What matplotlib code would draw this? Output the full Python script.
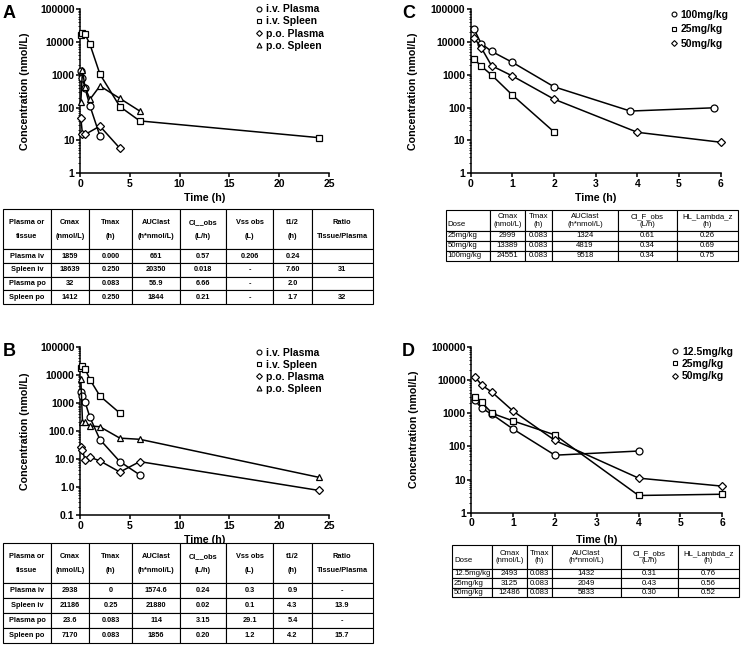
import matplotlib
matplotlib.use('Agg')
import matplotlib.pyplot as plt
from matplotlib.lines import Line2D
from matplotlib.ticker import LogLocator, FixedLocator, FixedFormatter, NullFormatter

plt.rcParams['font.family'] = ['Liberation Sans', 'DejaVu Sans']

# ---------------- Panel A data ----------------
a_ivp_t = [0.083, 0.25, 0.5, 1, 2]
a_ivp_v = [1300, 800, 400, 112, 13.5]
a_ivs_t = [0.083, 0.25, 0.5, 1, 2, 4, 6, 24]
a_ivs_v = [16500, 18639, 17500, 8500, 1050, 107, 39, 12]
a_pop_t = [0.083, 0.25, 0.5, 2, 4]
a_pop_v = [47, 15, 15, 27, 5.7]
a_pos_t = [0.083, 0.25, 0.5, 1, 2, 4, 6]
a_pos_v = [150, 1412, 420, 178, 455, 190, 78]

# ---------------- Panel B data ----------------
b_ivp_t = [0.083, 0.25, 0.5, 1, 2, 4, 6]
b_ivp_v = [2500, 1700, 1100, 300, 49, 8, 2.7]
b_ivs_t = [0.083, 0.25, 0.5, 1, 2, 4]
b_ivs_v = [18000, 21186, 16500, 6700, 1750, 430]
b_pop_t = [0.083, 0.25, 0.5, 1, 2, 4, 6, 24]
b_pop_v = [26, 20, 9.5, 11.5, 8.5, 3.4, 8, 0.75]
b_pos_t = [0.083, 0.25, 0.5, 1, 2, 4, 6, 24]
b_pos_v = [7170, 210, 200, 150, 140, 55, 50, 2.2]

# ---------------- Panel C data ----------------
c_100_t = [0.083, 0.25, 0.5, 1, 2, 3.83, 5.83]
c_100_v = [24551, 9000, 5200, 2400, 430, 78, 98]
c_25_t = [0.083, 0.25, 0.5, 1, 2]
c_25_v = [2999, 1850, 990, 240, 18]
c_50_t = [0.083, 0.25, 0.5, 1, 2, 4, 6]
c_50_v = [13389, 6800, 1900, 920, 180, 17.5, 8.7]

# ---------------- Panel D data ----------------
d_125_t = [0.083, 0.25, 0.5, 1, 2, 4]
d_125_v = [2450, 1400, 910, 330, 54, 72]
d_25_t = [0.083, 0.25, 0.5, 1, 2, 4, 6]
d_25_v = [3125, 2100, 980, 580, 220, 3.3, 3.6]
d_50_t = [0.083, 0.25, 0.5, 1, 2, 4, 6]
d_50_v = [12486, 7000, 4200, 1150, 150, 11, 6.3]

# ---------------- Tick labels ----------------
ab_xticks = [0, 5, 10, 15, 20, 25]
cd_xticks = [0, 1, 2, 3, 4, 5, 6]
a_yticks = [1, 10, 100, 1000, 10000, 100000]
a_yticklabels = ['1', '10', '100', '1000', '10000', '100000']
b_yticks = [0.1, 1, 10, 100, 1000, 10000, 100000]
b_yticklabels = ['0.1', '1.0', '10.0', '100.0', '1000', '10000', '100000']

# ---------------- Tables ----------------
ab_header = ['Plasma or\ntissue', 'Cmax\n(nmol/L)', 'Tmax\n(h)', 'AUClast\n(h*nmol/L)',
             'Cl__obs\n(L/h)', 'Vss obs\n(L)', 't1/2\n(h)', 'Ratio\nTissue/Plasma']
a_rows = [['Plasma iv', '1859', '0.000', '661', '0.57', '0.206', '0.24', ''],
          ['Spleen iv', '18639', '0.250', '20350', '0.018', '-', '7.60', '31'],
          ['Plasma po', '32', '0.083', '56.9', '6.66', '-', '2.0', ''],
          ['Spleen po', '1412', '0.250', '1844', '0.21', '-', '1.7', '32']]
b_rows = [['Plasma iv', '2938', '0', '1574.6', '0.24', '0.3', '0.9', '-'],
          ['Spleen iv', '21186', '0.25', '21880', '0.02', '0.1', '4.3', '13.9'],
          ['Plasma po', '23.6', '0.083', '114', '3.15', '29.1', '5.4', '-'],
          ['Spleen po', '7170', '0.083', '1856', '0.20', '1.2', '4.2', '15.7']]
cd_header = ['\nDose', 'Cmax\n(nmol/L)', 'Tmax\n(h)', 'AUClast\n(h*nmol/L)',
             'Cl_F_obs\n(L/h)', 'HL_Lambda_z\n(h)']
c_rows = [['25mg/kg', '2999', '0.083', '1324', '0.61', '0.26'],
          ['50mg/kg', '13389', '0.083', '4819', '0.34', '0.69'],
          ['100mg/kg', '24551', '0.083', '9518', '0.34', '0.75']]
d_rows = [['12.5mg/kg', '2493', '0.083', '1432', '0.31', '0.76'],
          ['25mg/kg', '3125', '0.083', '2049', '0.43', '0.56'],
          ['50mg/kg', '12486', '0.083', '5833', '0.30', '0.52']]

W, H = 750, 663
fig = plt.figure(figsize=(W / 100, H / 100), dpi=100)


def px_axes(l, t, r, b):
    return fig.add_axes([l / W, 1 - b / H, (r - l) / W, (b - t) / H])


def panel(ax, series, xlim, xticks, ylim, yticks, yticklabels, leg_anchor, leg_sp,
          ylabel_x, xlabel_y):
    handles = []
    for name, t, v, mk, ms in series:
        ax.plot(t, v, color='black', lw=1.1, marker=mk, ms=ms, mfc='white',
                mec='black', mew=0.9, clip_on=False, zorder=3)
        handles.append(Line2D([], [], ls='none', marker=mk, ms=ms * 0.7, mfc='white',
                              mec='black', mew=0.8, label=name))
    ax.set_yscale('log')
    ax.set_xlim(xlim)
    ax.set_ylim(ylim)
    ax.xaxis.set_major_locator(FixedLocator(xticks))
    ax.yaxis.set_major_locator(FixedLocator(yticks))
    ax.yaxis.set_major_formatter(FixedFormatter(yticklabels))
    ax.yaxis.set_minor_locator(LogLocator(base=10, subs=range(2, 10), numticks=20))
    ax.yaxis.set_minor_formatter(NullFormatter())
    for s in ['top', 'right']:
        ax.spines[s].set_visible(False)
    for s in ['left', 'bottom']:
        ax.spines[s].set_linewidth(1.1)
    ax.tick_params(which='major', direction='out', length=3, width=1.1, pad=1,
                   labelsize=7.5)
    ax.tick_params(which='minor', direction='out', length=1.5, width=0.6)
    for lab in ax.get_xticklabels() + ax.get_yticklabels():
        lab.set_fontweight('bold')
    ax.set_xlabel('Time (h)', fontsize=7.7, fontweight='bold')
    ax.set_ylabel('Concentration (nmol/L)', fontsize=7.7, fontweight='bold')
    ax.yaxis.set_label_coords(ylabel_x, 0.5)
    ax.xaxis.set_label_coords(0.5, xlabel_y)
    ax.legend(handles=handles, loc='upper left', bbox_to_anchor=leg_anchor,
              frameon=False, borderpad=0, borderaxespad=0, handlelength=0.6,
              handletextpad=0.35, labelspacing=leg_sp,
              prop={'size': 7.5, 'weight': 'bold'})
    return ax


def make_table(ax, header, rows, col_px, header_h, row_h, fs, bold, lsp, first_left):
    ax.axis('off')
    tot = sum(col_px)
    cw = [c / tot for c in col_px]
    tb = ax.table(cellText=rows, colLabels=header, colWidths=cw, cellLoc='center',
                  bbox=[0, 0, 1, 1])
    tb.auto_set_font_size(False)
    tb.set_fontsize(fs)
    for (r, c), cell in tb.get_celld().items():
        cell.set_linewidth(0.8)
        cell.set_edgecolor('black')
        cell.set_height(header_h if r == 0 else row_h)
        txt = cell.get_text()
        txt.set_fontweight('bold' if bold else 'normal')
        txt.set_linespacing(lsp if r == 0 else 1.0)
        if first_left and c == 0:
            cell._loc = 'left'
            cell.PAD = 0.04
            txt.set_horizontalalignment('left')
    return tb


ax_a = px_axes(80, 9.3, 329, 173)
panel(ax_a, [('i.v. Plasma', a_ivp_t, a_ivp_v, 'o', 5.0),
             ('i.v. Spleen', a_ivs_t, a_ivs_v, 's', 4.4),
             ('p.o. Plasma', a_pop_t, a_pop_v, 'D', 4.2),
             ('p.o. Spleen', a_pos_t, a_pos_v, '^', 5.0)],
      (0, 25), ab_xticks, (1, 100000), a_yticks, a_yticklabels,
      (0.708, 1.03), 0.2, -0.2, -0.125)

ax_b = px_axes(80, 346.7, 329, 515)
panel(ax_b, [('i.v. Plasma', b_ivp_t, b_ivp_v, 'o', 5.0),
             ('i.v. Spleen', b_ivs_t, b_ivs_v, 's', 4.4),
             ('p.o. Plasma', b_pop_t, b_pop_v, 'D', 4.2),
             ('p.o. Spleen', b_pos_t, b_pos_v, '^', 5.0)],
      (0, 25), ab_xticks, (0.1, 100000), b_yticks, b_yticklabels,
      (0.708, 0.995), 0.2, -0.2, -0.118)

ax_c = px_axes(470.7, 9.3, 720.7, 173)
panel(ax_c, [('100mg/kg', c_100_t, c_100_v, 'o', 5.0),
             ('25mg/kg', c_25_t, c_25_v, 's', 4.4),
             ('50mg/kg', c_50_t, c_50_v, 'D', 4.2)],
      (0, 6), cd_xticks, (1, 100000), a_yticks, a_yticklabels,
      (0.8, 0.995), 0.42, -0.21, -0.125)

ax_d = px_axes(471.3, 346.7, 722.3, 512.7)
panel(ax_d, [('12.5mg/kg', d_125_t, d_125_v, 'o', 5.0),
             ('25mg/kg', d_25_t, d_25_v, 's', 4.4),
             ('50mg/kg', d_50_t, d_50_v, 'D', 4.2)],
      (0, 6), cd_xticks, (1, 100000), a_yticks, a_yticklabels,
      (0.8, 1.0), 0.22, -0.21, -0.134)

ab_cols = [47.4, 38.6, 43, 47.7, 46, 47.3, 38.4, 61]
tab_a = px_axes(3.3, 209.3, 372.7, 304)
make_table(tab_a, ab_header, a_rows, ab_cols, 40, 13.7, 5.3, True, 2.3, False)
tab_b = px_axes(3.3, 543.3, 372.7, 642.7)
make_table(tab_b, ab_header, b_rows, ab_cols, 40, 14.85, 5.3, True, 2.3, False)

tab_c = px_axes(446, 210, 737.7, 260.7)
make_table(tab_c, cd_header, c_rows, [44, 35, 26.7, 66.6, 58.4, 61], 21, 9.9, 5.6, False, 1.1, True)
tab_d = px_axes(452.3, 545, 739, 596.7)
make_table(tab_d, cd_header, d_rows, [40, 34.7, 24.7, 69, 57.6, 60.7], 24.3, 9.13, 5.6, False, 1.1, True)

for letter, x, y in [('A', 3, 14), ('B', 3, 351), ('C', 402, 14), ('D', 402, 351)]:
    fig.text(x / W, 1 - y / H, letter, fontsize=13, fontweight='bold', va='center', ha='left')

fig.savefig('out.png', dpi=100)
